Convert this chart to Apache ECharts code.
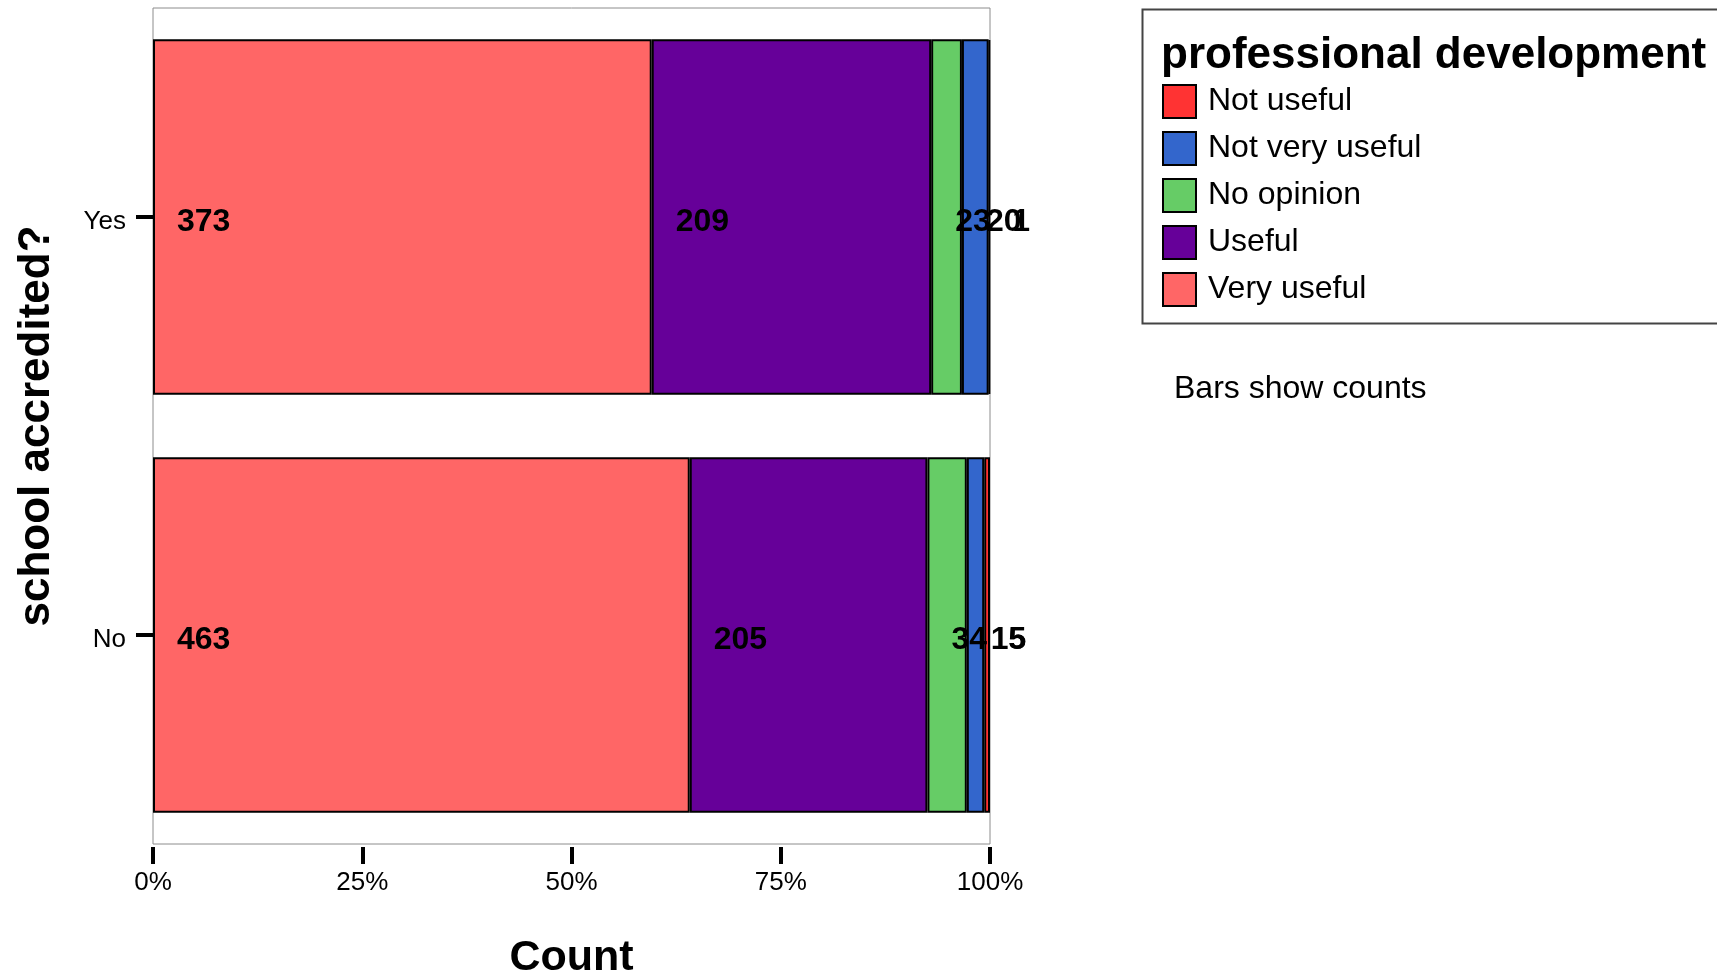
<!DOCTYPE html>
<html>
<head>
<meta charset="utf-8">
<script src="https://cdn.jsdelivr.net/npm/echarts@6/dist/echarts.min.js"></script>
<style>
html,body{margin:0;padding:0;background:#fff;}
#chart{width:1717px;height:977px;}
</style>
</head>
<body>
<div id="chart"></div>
<script>
const categories = ['No', 'Yes'];
const veryUseful = [463, 373];
const useful = [205, 209];
const noOpinion = [34, 23];
const notVeryUseful = [15, 20];
const notUseful = [5, 1];
const xTickLabels = ['0%', '25%', '50%', '75%', '100%'];
const legendOrder = ['Not useful', 'Not very useful', 'No opinion', 'Useful', 'Very useful'];
const legendTitle = 'professional development';
const noteText = 'Bars show counts';
const xTitle = 'Count';
const yTitle = 'school accredited?';

const FONT = '"Liberation Sans", Arial, sans-serif';
const seriesDefs = [
  { name: 'Very useful', values: veryUseful, color: '#FF6666' },
  { name: 'Useful', values: useful, color: '#660099' },
  { name: 'No opinion', values: noOpinion, color: '#66CC66' },
  { name: 'Not very useful', values: notVeryUseful, color: '#3366CC' },
  { name: 'Not useful', values: notUseful, color: '#FF3333' }
];
const totals = categories.map((c, i) => seriesDefs.reduce((s, d) => s + d.values[i], 0));

const chart = echarts.init(document.getElementById('chart'), null, { renderer: 'canvas' });
chart.setOption({
  animation: false,
  backgroundColor: '#fff',
  grid: { left: 153, right: 727, top: 8, bottom: 133, outerBoundsMode: 'none', containLabel: false, show: true, borderColor: '#8c8c8c', borderWidth: 1, backgroundColor: 'transparent' },
  xAxis: {
    type: 'value', min: 0, max: 100, interval: 25,
    offset: 3,
    axisLine: { show: false },
    axisTick: { show: true, length: 17, lineStyle: { color: '#000', width: 4 } },
    splitLine: { show: false },
    axisLabel: { formatter: v => xTickLabels[Math.round(v / 25)], color: '#000', fontSize: 26, fontFamily: FONT, margin: 23 },
    name: xTitle, nameLocation: 'middle', nameGap: 90,
    nameTextStyle: { color: '#000', fontSize: 43, fontWeight: 'bold', fontFamily: FONT }
  },
  yAxis: {
    type: 'category', data: categories,
    axisLine: { show: false },
    axisTick: { show: true, alignWithLabel: true, length: 17, lineStyle: { color: '#000', width: 4 } },
    axisLabel: {
      color: '#000', fontSize: 26, fontFamily: FONT, margin: 27,
      formatter: v => '{a|' + v + '}',
      rich: { a: { fontSize: 26, fontFamily: FONT, color: '#000', padding: [9, 0, 0, 0] } }
    },
    name: yTitle, nameLocation: 'middle', nameGap: 94, nameRotate: 90,
    nameTextStyle: { color: '#000', fontSize: 44, fontWeight: 'bold', fontFamily: FONT }
  },
  legend: {
    data: legendOrder,
    orient: 'vertical', left: 1162, top: 84, padding: 0,
    itemWidth: 33, itemHeight: 33, itemGap: 12,
    icon: 'rect',
    itemStyle: { borderColor: '#000', borderWidth: 2 },
    textStyle: { color: '#000', fontSize: 32, lineHeight: 33, fontFamily: FONT, padding: [0, 0, 0, 7] },
    selectedMode: false
  },
  graphic: [
    { type: 'rect', left: 1140, top: 7, shape: { width: 700, height: 314 }, style: { fill: 'none', stroke: '#444', lineWidth: 2 } },
    { type: 'text', left: 1161, top: 34, style: { text: legendTitle, fill: '#000', font: 'bold 44px ' + FONT } },
    { type: 'text', left: 1174, top: 373, style: { text: noteText, fill: '#000', font: '32px ' + FONT } }
  ],
  series: seriesDefs.map(d => ({
    name: d.name, type: 'bar', stack: 'total', barCategoryGap: '15%',
    itemStyle: { color: d.color, borderColor: '#000', borderWidth: 2 },
    label: {
      show: true, position: 'insideLeft', distance: 24, offset: [0, 5],
      formatter: p => String(p.data.count),
      color: '#000', fontSize: 32, fontWeight: 'bold', fontFamily: FONT
    },
    data: d.values.map((v, i) => ({ value: v / totals[i] * 100, count: v }))
  }))
});
</script>
</body>
</html>
